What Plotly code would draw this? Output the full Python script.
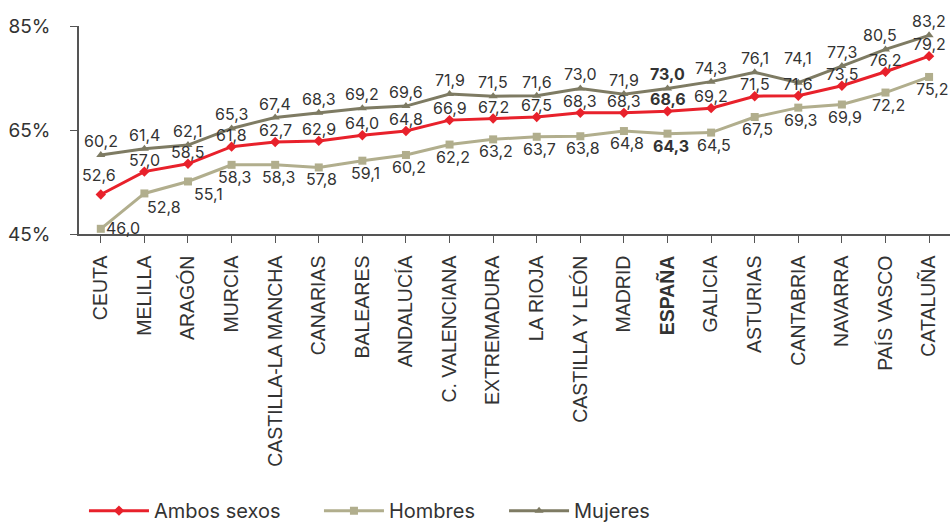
import plotly.graph_objects as go

regiones = ["CEUTA", "MELILLA", "ARAGÓN", "MURCIA", "CASTILLA-LA MANCHA", "CANARIAS",
            "BALEARES", "ANDALUCÍA", "C. VALENCIANA", "EXTREMADURA", "LA RIOJA",
            "CASTILLA Y LEÓN", "MADRID", "ESPAÑA", "GALICIA", "ASTURIAS", "CANTABRIA",
            "NAVARRA", "PAÍS VASCO", "CATALUÑA"]
ambos = [52.6, 57.0, 58.5, 61.8, 62.7, 62.9, 64.0, 64.8, 66.9, 67.2,
         67.5, 68.3, 68.3, 68.6, 69.2, 71.5, 71.6, 73.5, 76.2, 79.2]
hombres = [46.0, 52.8, 55.1, 58.3, 58.3, 57.8, 59.1, 60.2, 62.2, 63.2,
           63.7, 63.8, 64.8, 64.3, 64.5, 67.5, 69.3, 69.9, 72.2, 75.2]
mujeres = [60.2, 61.4, 62.1, 65.3, 67.4, 68.3, 69.2, 69.6, 71.9, 71.5,
           71.6, 73.0, 71.9, 73.0, 74.3, 76.1, 74.1, 77.3, 80.5, 83.2]
y_ticks = [45, 65, 85]
destacado = "ESPAÑA"

ROJO = "#e8212b"
OLIVA_CLARO = "#b1ae8d"
OLIVA_OSCURO = "#7e7b63"
TEXTO = "#333333"
NUM_FONT = "Inter"
CAT_FONT = "Liberation Sans"

# default label offset (px) per series, and a few hand-placed exceptions
offset_serie = {"Ambos sexos": (0, 12), "Hombres": (3, -12), "Mujeres": (0, 14)}
offset_extra = {
    ("Ambos sexos", "CEUTA"): (-2, 19),
    ("Hombres", "CEUTA"): (22, 1),
    ("Hombres", "MELILLA"): (20, -14),
    ("Hombres", "ARAGÓN"): (21, -13),
    ("Mujeres", "CANTABRIA"): (0, 25),
    ("Mujeres", "PAÍS VASCO"): (-5, 14),
}


def fmt(v):
    return f"{v:.1f}".replace(".", ",")


x = list(range(len(regiones)))

# (name, values, colour, marker, legend id, legend left edge in paper units)
series = [
    ("Mujeres", mujeres, OLIVA_OSCURO, "triangle-up", "legend3", 0.488),
    ("Hombres", hombres, OLIVA_CLARO, "square", "legend2", 0.2755),
    ("Ambos sexos", ambos, ROJO, "diamond", "legend", 0.0057),
]

fig = go.Figure()
annotations = []
legends = {}
for nombre, valores, color, simbolo, leg, leg_x in series:
    fig.add_trace(go.Scatter(
        x=x, y=valores, name=nombre, mode="lines+markers",
        line=dict(color=color, width=3),
        marker=dict(symbol=simbolo, size=8, color=color),
        cliponaxis=False, legend=leg,
    ))
    legends[leg] = dict(
        orientation="h", x=leg_x, xanchor="left", y=-1.33, yanchor="middle",
        font=dict(family=NUM_FONT, size=20, color=TEXTO),
        itemwidth=60, bgcolor="rgba(0,0,0,0)",
    )
    for i, (reg, v) in enumerate(zip(regiones, valores)):
        dx, dy = offset_extra.get((nombre, reg), offset_serie[nombre])
        s = fmt(v)
        annotations.append(dict(
            x=i, y=v, xref="x", yref="y",
            text=f"<b>{s}</b>" if reg == destacado else s,
            showarrow=False, xanchor="center", yanchor="middle",
            xshift=dx, yshift=dy,
            font=dict(family=NUM_FONT, size=16, color=TEXTO),
        ))

ticktext = [f"<b>{r}</b>" if r == destacado else r for r in regiones]

fig.update_layout(
    width=950, height=526,
    margin=dict(l=79, r=0, t=26, b=292, autoexpand=False),
    paper_bgcolor="white", plot_bgcolor="white",
    showlegend=True,
    annotations=annotations,
    **legends,
    xaxis=dict(
        range=[-0.5, len(regiones) - 0.52],
        tickmode="array", tickvals=x, ticktext=ticktext,
        tickson="boundaries", ticks="outside", ticklen=7, tickcolor="#555555",
        showline=True, linecolor="#555555", linewidth=1.5,
        showgrid=False, zeroline=False, tickangle=-90, ticklabelstandoff=5,
        tickfont=dict(family=CAT_FONT, size=19.5, color=TEXTO),
    ),
    yaxis=dict(
        range=[y_ticks[0], y_ticks[-1]],
        tickmode="array", tickvals=y_ticks, ticktext=[f"{t}%" for t in y_ticks],
        ticks="outside", ticklen=7, tickcolor="#555555",
        showline=True, linecolor="#555555", linewidth=1.5,
        showgrid=False, zeroline=False, ticklabelstandoff=16,
        tickfont=dict(family=NUM_FONT, size=19, color=TEXTO),
    ),
)

fig.write_html("out.html")
